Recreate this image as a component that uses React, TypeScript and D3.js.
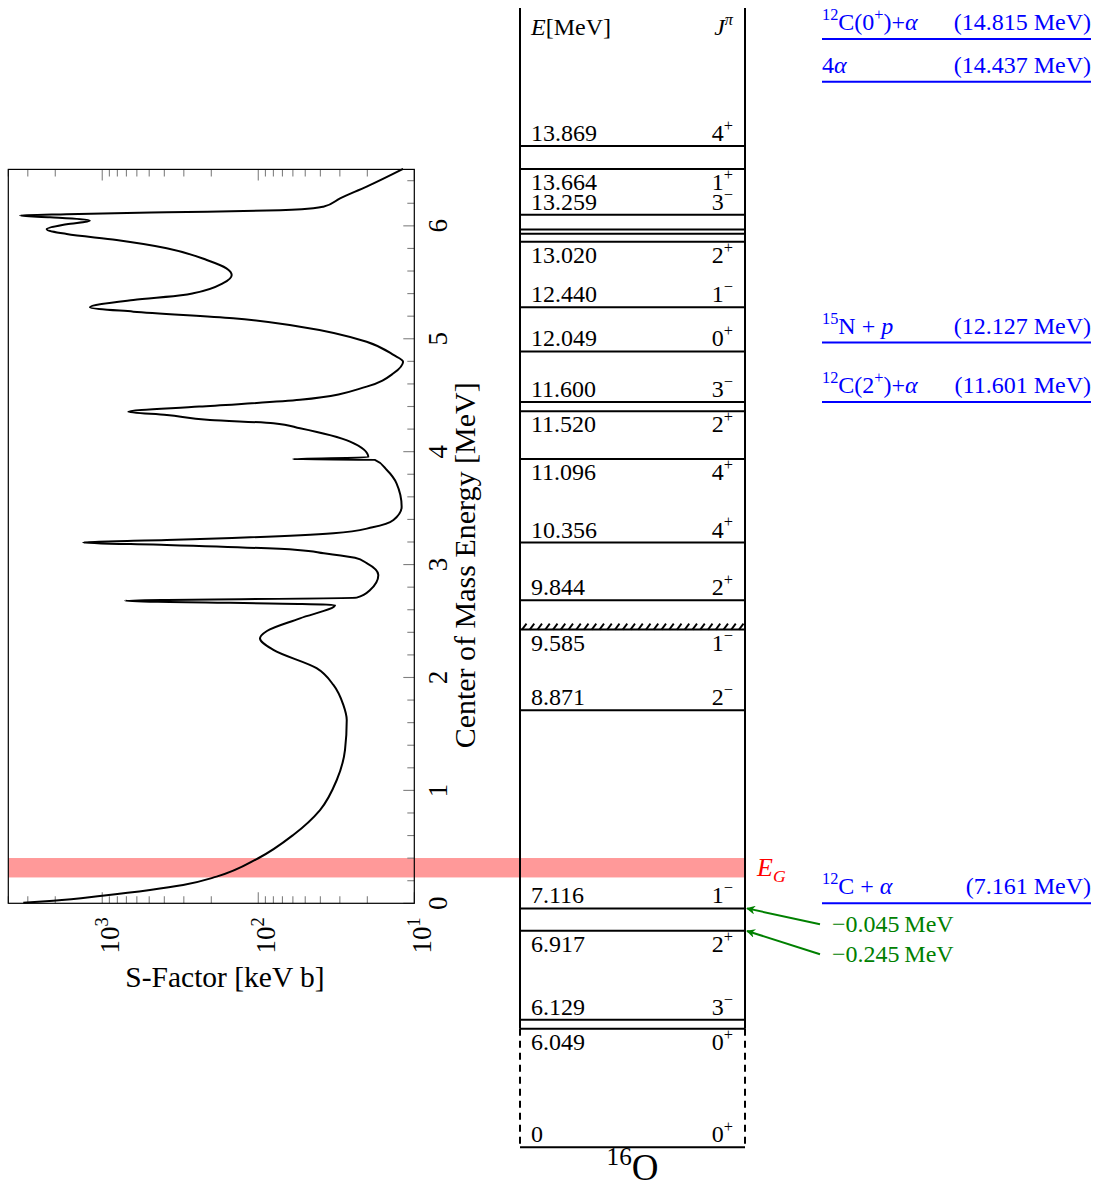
import React from "react";
import * as d3 from "d3";

// ---- S-factor curve: centre-of-mass energy [MeV] vs S-factor [keV b] ----
const curveEnergy = [
  0.005, 0.023, 0.067, 0.118, 0.162, 0.236, 0.399, 0.605, 0.826, 1.092, 1.358,
  1.624, 1.757, 1.934, 2.082, 2.244, 2.347, 2.412, 2.524, 2.642, 2.68, 2.707,
  2.775, 2.908, 3.012, 3.06, 3.1, 3.13, 3.174, 3.194, 3.218, 3.236, 3.278,
  3.33, 3.395, 3.513, 3.72, 3.838, 3.927, 3.934, 3.95, 4.089, 4.207, 4.252, 4.281,
  4.325, 4.354, 4.399, 4.459, 4.576, 4.694, 4.797, 4.857, 4.974, 5.107, 5.182,
  5.24, 5.279, 5.344, 5.388, 5.403, 5.492, 5.565, 5.624, 5.698, 5.802, 5.875,
  5.928, 5.97, 6.014, 6.046, 6.076, 6.091, 6.103, 6.12, 6.135, 6.156, 6.17,
  6.244, 6.347, 6.504,
];
const curveSFactor = [
  3206, 2060, 1000, 494, 303, 185, 100, 59.7, 40.2, 31.4, 27.8,
  27.1, 28.5, 33, 42.3, 80, 97.5, 88, 54, 32.2, 715, 23.4,
  19.2, 17.0, 20.2, 24, 38, 56, 386, 1324, 386, 147, 33,
  18.5, 13.6, 12.05, 13.0, 15.0, 17.9, 60, 19.7, 25.8, 54, 80, 204,
  386, 681, 239, 54, 20.2, 13.6, 11.8, 13.6, 20.2, 54, 145,
  632, 1200, 632, 303, 261, 168, 148, 160, 214, 386, 809,
  1690, 2270, 1690, 1200, 2160, 3370, 1690, 386, 88, 44.4, 38.3,
  29.9, 20.2, 11.8,
];

// ---- axes ----
const energyDomain = [0, 6.5];
const sDomain = [4000, 10];
const energyMajorTicks = [0, 1, 2, 3, 4, 5, 6];
const energyTickStep = 0.2;
const gamowWindow = [0.229, 0.401];

// ---- 16O level scheme (excitation energies, MeV) ----
const levelEnergy = [
  13.869, 13.664, 13.259, 13.129, 13.09, 13.02, 12.44, 12.049, 11.6, 11.52,
  11.096, 10.356, 9.844, 9.585, 8.871, 7.116, 6.917, 6.129, 6.049, 0,
];
const levelLabel = [
  "13.869", "13.664", "13.259", "", "", "13.020", "12.440", "12.049", "11.600", "11.520",
  "11.096", "10.356", "9.844", "9.585", "8.871", "7.116", "6.917", "6.129", "6.049", "0",
];
const levelSpin = [
  "4", "1", "3", "", "", "2", "1", "0", "3", "2",
  "4", "4", "2", "1", "2", "1", "2", "3", "0", "0",
];
const levelParity = [
  "+", "+", "−", "", "", "+", "−", "+", "−", "+",
  "+", "+", "+", "−", "−", "−", "+", "−", "+", "+",
];
const labelBelow = [
  false, true, false, false, false, true, false, false, false, true,
  true, false, false, true, false, false, true, false, true, false,
];
const broadLevels = [9.585];
const schemeTopEnergy = 15.09;
const groundDisplayEnergy = 5.0; // ground state drawn just below the axis break

// ---- particle thresholds ----
const alphaThreshold = 7.161;
const thresholdEnergy = [14.815, 14.437, 12.127, 11.601, 7.161];
const thresholdText = ["(14.815 MeV)", "(14.437 MeV)", "(12.127 MeV)", "(11.601 MeV)", "(7.161 MeV)"];
type Seg = { t: string; it?: boolean; sup?: boolean; sub?: boolean };
const thresholdName: Seg[][] = [
  [{ t: "12", sup: true }, { t: "C(0" }, { t: "+", sup: true }, { t: ")+" }, { t: "α", it: true }],
  [{ t: "4" }, { t: "α", it: true }],
  [{ t: "15", sup: true }, { t: "N + " }, { t: "p", it: true }],
  [{ t: "12", sup: true }, { t: "C(2" }, { t: "+", sup: true }, { t: ")+" }, { t: "α", it: true }],
  [{ t: "12", sup: true }, { t: "C + " }, { t: "α", it: true }],
];

// sub-threshold states relative to the 12C+α threshold
const subthresholdEnergy = [-0.045, -0.245];

const FONT = "'Liberation Serif', 'DejaVu Serif', serif";

// Layout
const W = 1093;
const H = 1187;
const plot = { left: 8.3, right: 414.3, top: 169.4, bottom: 903.3 };
const scheme = { left: 520, right: 745, labelX: 531, spinX: 733 };
const thr = { left: 822, right: 1091 };

function Rich({ segs, size, ...rest }: { segs: Seg[]; size: number; [k: string]: any }) {
  let shift = 0;
  return (
    <text fontFamily={FONT} fontSize={size} {...rest}>
      {segs.map((s, i) => {
        const target = s.sup ? -0.42 * size : s.sub ? 0.25 * size : 0;
        const dy = target - shift;
        shift = target;
        return (
          <tspan
            key={i}
            dy={dy}
            fontSize={s.sup || s.sub ? size * 0.68 : size}
            fontStyle={s.it ? "italic" : "normal"}
          >
            {s.t}
          </tspan>
        );
      })}
    </text>
  );
}

export default function App() {
  const xS = d3.scaleLog().domain(sDomain).range([plot.left, plot.right]);
  const yE = d3.scaleLinear().domain(energyDomain).range([plot.bottom, plot.top]);
  const yX = (ex: number) => yE(ex - alphaThreshold);

  const pts: [number, number][] = curveEnergy.map((e, i) => [e, curveSFactor[i]]);
  const line = d3
    .line<[number, number]>()
    .x((d) => xS(d[1]))
    .y((d) => yE(d[0]))
    .curve(d3.curveMonotoneY);

  const sTicks = xS.ticks().filter((v) => v >= 10 && v <= 4000);
  const isMajorS = (v: number) => Math.abs(Math.log10(v) - Math.round(Math.log10(v))) < 1e-9;
  const eTicks = d3.range(0, 6.5, energyTickStep).map((v) => +v.toFixed(2));
  const isMajorE = (v: number) => Math.abs(v - Math.round(v)) < 1e-6;

  const majorLen = 11;
  const minorLen = 7;
  const tickColor = "#808080";

  const groundY = yX(groundDisplayEnergy);
  const lastSolidY = yX(6.049);
  const topY = yX(schemeTopEnergy);

  const hatchY = broadLevels.map((e) => yX(e));
  const hatchXs = d3.range(scheme.left + 2, scheme.right - 2, 7.75);

  const levelY = (e: number) => (e === 0 ? groundY : yX(e));

  return (
    <svg
      width={W}
      height={H}
      style={{ position: "absolute", left: 0, top: 0, display: "block", background: "#fff" }}
    >
      <defs>
        <marker
          id="arrowGreen"
          viewBox="0 0 10 10"
          refX="9"
          refY="5"
          markerWidth="9"
          markerHeight="9"
          markerUnits="userSpaceOnUse"
          orient="auto"
        >
          <path d="M0,0 L10,5 L0,10 L3,5 Z" fill="#008000" />
        </marker>
      </defs>

      {/* Gamow window band */}
      <rect
        x={plot.left}
        y={yE(gamowWindow[1])}
        width={scheme.right - plot.left}
        height={yE(gamowWindow[0]) - yE(gamowWindow[1])}
        fill="rgb(255,153,153)"
      />
      <Rich
        segs={[{ t: "E", it: true }, { t: "G", it: true, sub: true }]}
        size={26}
        x={scheme.right + 12}
        y={yE(d3.mean(gamowWindow) as number) + 8}
        fill="#ff0000"
      />

      {/* S-factor panel */}
      <g>
        {sTicks.map((v) => {
          const x = xS(v);
          const len = isMajorS(v) ? majorLen : minorLen;
          return (
            <g key={"s" + v} stroke={tickColor} strokeWidth={1.1}>
              <line x1={x} x2={x} y1={plot.bottom} y2={plot.bottom - len} />
              <line x1={x} x2={x} y1={plot.top} y2={plot.top + len} />
            </g>
          );
        })}
        {eTicks.map((v) => {
          const y = yE(v);
          const len = isMajorE(v) ? majorLen : minorLen;
          return (
            <line
              key={"e" + v}
              x1={plot.right}
              x2={plot.right - len}
              y1={y}
              y2={y}
              stroke={tickColor}
              strokeWidth={1.1}
            />
          );
        })}
        <rect
          x={plot.left}
          y={plot.top}
          width={plot.right - plot.left}
          height={plot.bottom - plot.top}
          fill="none"
          stroke="#000"
          strokeWidth={1.2}
        />
        <path d={line(pts) as string} fill="none" stroke="#000" strokeWidth={2} strokeLinejoin="round" />

        {/* energy tick labels */}
        {energyMajorTicks.map((v) => (
          <text
            key={"el" + v}
            transform={`translate(${plot.right + 33},${yE(v)}) rotate(-90)`}
            textAnchor="middle"
            fontFamily={FONT}
            fontSize={27}
          >
            {v}
          </text>
        ))}
        {/* S-factor tick labels */}
        {sTicks.filter(isMajorS).map((v) => (
          <Rich
            key={"sl" + v}
            segs={[{ t: "10" }, { t: String(Math.round(Math.log10(v))), sup: true }]}
            size={27}
            transform={`translate(${xS(v) + 17},${plot.bottom + 14}) rotate(-90)`}
            textAnchor="end"
          />
        ))}
        <text
          transform={`translate(${plot.right + 61},${(plot.top + plot.bottom) / 2 + 29}) rotate(-90)`}
          textAnchor="middle"
          fontFamily={FONT}
          fontSize={30}
        >
          Center of Mass Energy [MeV]
        </text>
        <text x={225} y={plot.bottom + 84} textAnchor="middle" fontFamily={FONT} fontSize={29.5}>
          S-Factor [keV b]
        </text>
      </g>

      {/* 16O level scheme */}
      <g stroke="#000" strokeWidth={2}>
        <line x1={scheme.left} x2={scheme.left} y1={topY} y2={lastSolidY} />
        <line x1={scheme.right} x2={scheme.right} y1={topY} y2={lastSolidY} />
        <line x1={scheme.left} x2={scheme.left} y1={lastSolidY} y2={groundY} strokeDasharray="7,5" />
        <line x1={scheme.right} x2={scheme.right} y1={lastSolidY} y2={groundY} strokeDasharray="7,5" />
        {levelEnergy.map((e, i) => (
          <line key={"lv" + i} x1={scheme.left} x2={scheme.right} y1={levelY(e)} y2={levelY(e)} />
        ))}
        {hatchY.map((y, j) =>
          hatchXs.map((x, k) => (
            <line key={`h${j}-${k}`} x1={x} y1={y} x2={x + 4.5} y2={y - 6} strokeWidth={1.8} />
          ))
        )}
      </g>

      <Rich segs={[{ t: "E", it: true }, { t: "[MeV]" }]} size={24} x={scheme.labelX} y={35} />
      <Rich
        segs={[{ t: "J", it: true }, { t: "π", it: true, sup: true }]}
        size={24}
        x={scheme.spinX}
        y={35}
        textAnchor="end"
      />

      {levelEnergy.map((e, i) => {
        if (!levelLabel[i]) return null;
        const y = levelY(e) + (labelBelow[i] ? 21 : -5);
        return (
          <g key={"lb" + i}>
            <text x={scheme.labelX} y={y} fontFamily={FONT} fontSize={24}>
              {levelLabel[i]}
            </text>
            <Rich
              segs={[{ t: levelSpin[i] }, { t: levelParity[i], sup: true }]}
              size={24}
              x={scheme.spinX}
              y={y}
              textAnchor="end"
            />
          </g>
        );
      })}

      <Rich
        segs={[{ t: "16", sup: true }, { t: "O" }]}
        size={37}
        x={(scheme.left + scheme.right) / 2}
        y={groundY + 33}
        textAnchor="middle"
      />

      {/* particle thresholds */}
      {thresholdEnergy.map((e, i) => {
        const y = yX(e);
        return (
          <g key={"th" + i} fill="#0000ff">
            <line x1={thr.left} x2={thr.right} y1={y} y2={y} stroke="#0000ff" strokeWidth={2} />
            <Rich segs={thresholdName[i]} size={24} x={thr.left} y={y - 9} fill="#0000ff" />
            <text x={thr.right} y={y - 9} textAnchor="end" fontFamily={FONT} fontSize={24} fill="#0000ff">
              {thresholdText[i]}
            </text>
          </g>
        );
      })}

      {/* sub-threshold state binding energies */}
      {subthresholdEnergy.map((e, i) => {
        const textY = yE(0) + 29 + 30 * i;
        return (
          <g key={"sub" + i}>
            <line
              x1={thr.left - 2}
              y1={textY - 8}
              x2={scheme.right + 2}
              y2={yE(e)}
              stroke="#008000"
              strokeWidth={2}
              markerEnd="url(#arrowGreen)"
            />
            <text x={thr.left + 10} y={textY} fontFamily={FONT} fontSize={24} fill="#008000">
              {`−${Math.abs(e).toFixed(3)}\u2009MeV`}
            </text>
          </g>
        );
      })}
    </svg>
  );
}
